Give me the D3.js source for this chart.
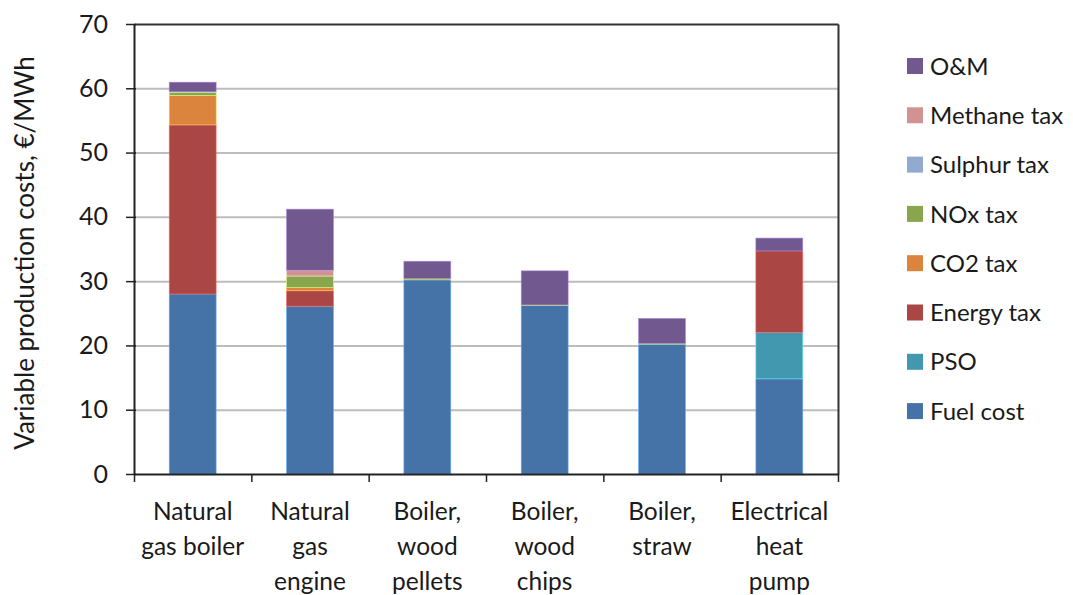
<!DOCTYPE html>
<html>
<head>
    <meta charset="utf-8">
    <style>
        body { margin: 0; background: #ffffff; }
        .lbl { font-family: Lato, "Open Sans", sans-serif; font-size: 24px; fill: #1a1a1a; }
        .tk { font-size: 25px; }
        .cat { font-size: 24.5px; }
        .ttl { font-size: 26px; }
    </style>
    <script src="https://d3js.org/d3.v7.min.js"></script>
</head>
<body>
<div id="chart"></div>
<script>

    var categories = ["Natural gas boiler", "Natural gas engine", "Boiler, wood pellets",
                      "Boiler, wood chips", "Boiler, straw", "Electrical heat pump"];
    var categoryLines = [["Natural", "gas boiler"], ["Natural", "gas", "engine"], ["Boiler,", "wood", "pellets"],
                         ["Boiler,", "wood", "chips"], ["Boiler,", "straw"], ["Electrical", "heat", "pump"]];

    // bottom to top
    var seriesNames = ["Fuel cost", "PSO", "Energy tax", "CO2 tax", "NOx tax", "Sulphur tax", "Methane tax", "O&M"];
    var fuelCost   = [28.0, 26.1, 30.2, 26.2, 20.2, 14.8];
    var pso        = [0, 0, 0, 0, 0, 7.2];
    var energyTax  = [26.3, 2.4, 0, 0, 0, 12.7];
    var co2Tax     = [4.6, 0.5, 0, 0, 0, 0];
    var noxTax     = [0.5, 1.8, 0.2, 0.1, 0.1, 0];
    var sulphurTax = [0.05, 0, 0, 0, 0, 0];
    var methaneTax = [0, 0.9, 0, 0, 0, 0];
    var om         = [1.5, 9.5, 2.7, 5.3, 3.9, 2.0];
    var seriesValues = [fuelCost, pso, energyTax, co2Tax, noxTax, sulphurTax, methaneTax, om];

    var yTicks = [0, 10, 20, 30, 40, 50, 60, 70];
    var yTitle = "Variable production costs,  €/MWh";

    var colors = ["#4572A7", "#4198AF", "#AA4643", "#DB843D", "#89A54E", "#93A9CF", "#D09392", "#71588F"];

    var W = 1073, H = 595;
    var margin = { top: 24, left: 134, right: 235, bottom: 121 };
    var width = W - margin.left - margin.right,
        height = H - margin.top - margin.bottom;

    var svg = d3.select("#chart").append("svg")
        .attr("width", W)
        .attr("height", H);

    var focus = svg.append("g")
        .attr("transform", `translate(${margin.left},${margin.top})`);

    var rows = categories.map(function(c, i) {
        var r = { cat: c };
        seriesNames.forEach(function(s, j) { r[s] = seriesValues[j][i]; });
        return r;
    });

    var stacked = d3.stack().keys(seriesNames)(rows);

    var x = d3.scaleBand().domain(categories).range([0, width]).paddingInner(0.6).paddingOuter(0.3);
    var xEdges = d3.scaleLinear().domain([0, categories.length]).range([0, width]);
    var y = d3.scaleLinear().domain([0, 70]).range([height, 0]);

    // grid
    var grid = focus.append("g")
        .call(d3.axisLeft(y).tickValues(yTicks.slice(1, -1)).tickSize(-width).tickFormat(""));
    grid.select(".domain").remove();
    grid.selectAll("line").attr("stroke", "#bdbdbd").attr("stroke-width", 2);

    // bars
    focus.append("g")
        .selectAll("g")
        .data(stacked)
        .enter()
        .append("g")
        .attr("fill", function(d, i) { return colors[i]; })
        .attr("stroke", function(d, i) { return d3.color(colors[i]).brighter(1.2); })
        .attr("stroke-width", 0.6)
        .selectAll("rect")
        .data(function(d) { return d.filter(function(p) { return p[1] - p[0] > 0; }); })
        .enter()
        .append("rect")
        .attr("x", function(d) { return x(d.data.cat); })
        .attr("width", x.bandwidth())
        .attr("y", function(d) { return y(d[1]); })
        .attr("height", function(d) { return y(d[0]) - y(d[1]); });

    // frame top / right
    focus.append("g")
        .attr("transform", `translate(${width},0)`)
        .call(d3.axisRight(y).tickValues([]).tickSizeOuter(0))
        .select(".domain").attr("stroke", "#333").attr("stroke-width", 2);
    focus.append("g")
        .call(d3.axisTop(xEdges).tickValues([]).tickSizeOuter(0))
        .select(".domain").attr("stroke", "#333").attr("stroke-width", 2);

    // y axis
    var yx = focus.append("g")
        .call(d3.axisLeft(y).tickValues(yTicks).tickSizeInner(8).tickSizeOuter(0).tickPadding(18));
    yx.select(".domain").attr("stroke", "#222").attr("stroke-width", 2);
    yx.selectAll("line").attr("stroke", "#222").attr("stroke-width", 1.5).attr("x2", -8).attr("x1", 2);
    yx.selectAll("text").attr("class", "lbl tk").attr("font-size", null).attr("font-family", null);

    // x axis edge ticks
    var xx = focus.append("g")
        .attr("transform", `translate(0,${height})`)
        .call(d3.axisBottom(xEdges).ticks(categories.length).tickSizeInner(8).tickSizeOuter(0).tickFormat(""));
    xx.select(".domain").attr("stroke", "#222").attr("stroke-width", 2);
    xx.selectAll("line").attr("stroke", "#222").attr("stroke-width", 1.5);

    // category labels
    var xl = focus.append("g")
        .attr("transform", `translate(0,${height})`)
        .call(d3.axisBottom(x).tickSize(0).tickFormat(""));
    xl.select(".domain").remove();
    xl.selectAll(".tick").each(function(d, i) {
        var t = d3.select(this).append("text").attr("class", "lbl cat").attr("text-anchor", "middle");
        categoryLines[i].forEach(function(line, k) {
            t.append("tspan").attr("x", 0).attr("y", 46 + k * 35).text(line);
        });
    });

    // y title
    svg.append("text")
        .attr("class", "lbl ttl")
        .attr("text-anchor", "middle")
        .attr("transform", `translate(34,${margin.top + height / 2 + 4}) rotate(-90)`)
        .text(yTitle);

    // legend (top to bottom is reversed series order)
    var legend = svg.append("g").attr("transform", "translate(907,66)");
    var legendItems = seriesNames.slice().reverse();
    var li = legend.selectAll("g")
        .data(legendItems)
        .enter()
        .append("g")
        .attr("transform", function(d, i) { return `translate(0,${i * 49.3})`; });
    li.append("rect")
        .attr("x", 0).attr("y", -8)
        .attr("width", 16).attr("height", 16)
        .attr("fill", function(d) { return colors[seriesNames.indexOf(d)]; });
    li.append("text")
        .attr("class", "lbl")
        .attr("x", 23)
        .attr("dy", "0.36em")
        .text(function(d) { return d; });

</script>
</body>
</html>
